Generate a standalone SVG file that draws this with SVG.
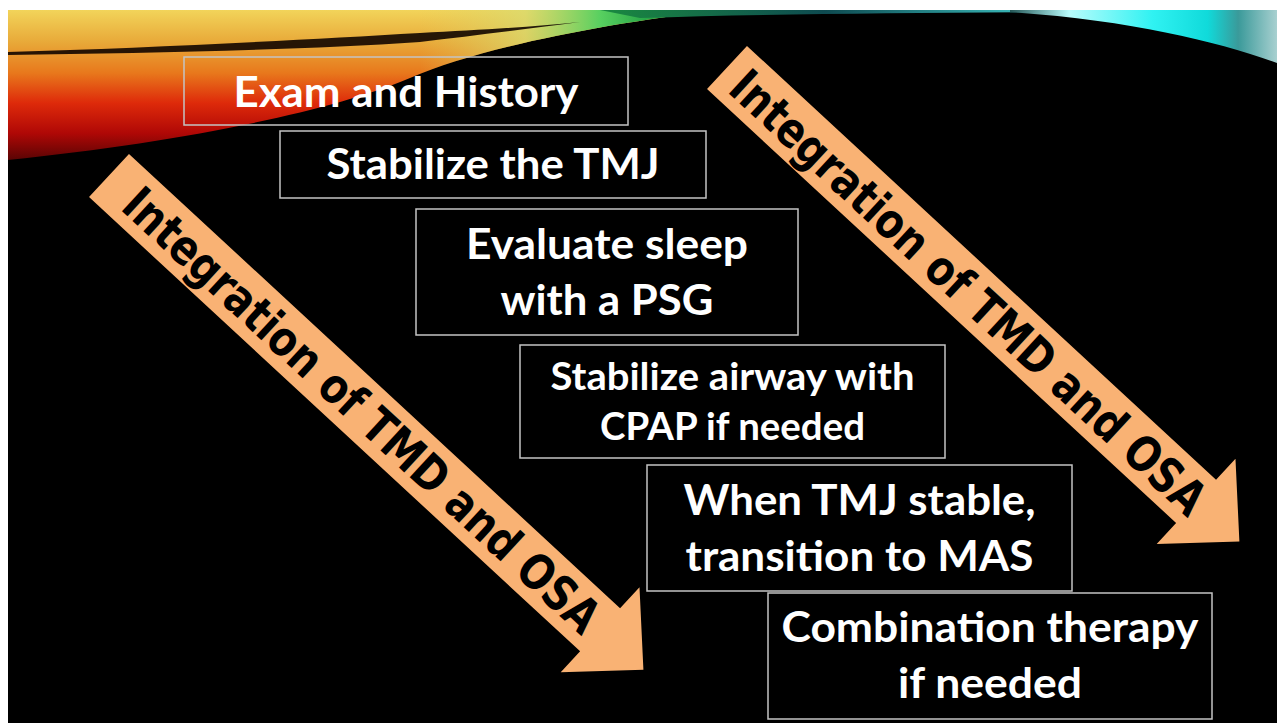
<svg xmlns="http://www.w3.org/2000/svg" width="1277" height="723" viewBox="0 0 1277 723">
<style>
.box{fill:none;stroke:#c4c4c4;stroke-width:1.5}
.lbl{font-family:Lato,"Open Sans","Liberation Sans",sans-serif;font-weight:700;fill:#ffffff;text-anchor:middle}
.arr{fill:#F9B274}
.arrtxt{font-family:"DejaVu Sans","Liberation Sans",sans-serif;font-weight:700;fill:#000000;text-anchor:middle;font-size:48px}
</style>
<defs>
<linearGradient id="warm" x1="0" y1="10" x2="0" y2="160" gradientUnits="userSpaceOnUse">
<stop offset="0" stop-color="#f2d45a"/>
<stop offset="0.22" stop-color="#e8a838"/>
<stop offset="0.42" stop-color="#e8781c"/>
<stop offset="0.62" stop-color="#de2a0a"/>
<stop offset="0.82" stop-color="#b00806"/>
<stop offset="1" stop-color="#5a0404"/>
</linearGradient>
<linearGradient id="green" x1="420" y1="0" x2="720" y2="0" gradientUnits="userSpaceOnUse">
<stop offset="0" stop-color="#e0d060" stop-opacity="0"/>
<stop offset="0.35" stop-color="#d8dc70" stop-opacity="0.75"/>
<stop offset="0.6" stop-color="#58d060" stop-opacity="1"/>
<stop offset="0.8" stop-color="#1a9a40" stop-opacity="1"/>
<stop offset="1" stop-color="#064a20" stop-opacity="1"/>
</linearGradient>
<linearGradient id="cyan" x1="1000" y1="0" x2="1277" y2="0" gradientUnits="userSpaceOnUse">
<stop offset="0" stop-color="#0a3a3a"/>
<stop offset="0.25" stop-color="#b8fcfc"/>
<stop offset="0.55" stop-color="#30f2f2"/>
<stop offset="0.75" stop-color="#10dada"/>
<stop offset="0.86" stop-color="#3a9a9a"/>
<stop offset="1" stop-color="#a8d0d0"/>
</linearGradient>
<linearGradient id="topline" x1="600" y1="0" x2="1050" y2="0" gradientUnits="userSpaceOnUse">
<stop offset="0" stop-color="#1a8a40"/>
<stop offset="0.5" stop-color="#0e4a50"/>
<stop offset="1" stop-color="#40c8c8"/>
</linearGradient>
</defs>

<rect x="0" y="0" width="1277" height="723" fill="#ffffff"/>
<rect x="8" y="10" width="1269" height="713" fill="#000000"/>

<g id="banner">
<path d="M8,10 L720,10 C600,24 480,48 410,78 C330,112 180,142 8,160 Z" fill="url(#warm)"/>
<path d="M8,10 L720,10 C600,24 480,48 410,78 C330,112 180,142 8,160 Z" fill="url(#green)"/>
<path d="M8,52 C150,48 300,40 420,33 C480,30 530,27 580,22 C520,30 470,36 420,42 C300,50 150,53 8,55 Z" fill="#120500" opacity="0.9"/>
<path d="M600,10 L1050,10 L1050,12 C900,13 760,14 640,18 Z" fill="url(#topline)"/>
<path d="M1010,10 L1277,10 L1277,63 C1220,42 1130,20 1010,12 Z" fill="url(#cyan)"/>
</g>

<g id="connectors">
<g id="arrow-left" transform="translate(109,175.5) rotate(42.77)">
<path class="arr" d="M0,-29.4 L669,-29.4 L669,-58 L728,0 L669,58 L669,29.4 L0,29.4 Z"/>
<text class="arrtxt" x="345" y="17.4" textLength="630" lengthAdjust="spacingAndGlyphs">Integration of TMD and OSA</text>
</g>
<g id="arrow-right" transform="translate(727,67.5) rotate(42.77)">
<path class="arr" d="M0,-29.4 L639,-29.4 L639,-58 L698,0 L639,58 L639,29.4 L0,29.4 Z"/>
<text class="arrtxt" x="330" y="18" textLength="629" lengthAdjust="spacingAndGlyphs">Integration of TMD and OSA</text>
</g>
</g>

<g id="node-exam">
<rect class="box" x="184" y="57" width="444" height="68"/>
<text class="lbl" x="406" y="107" font-size="42" textLength="345" lengthAdjust="spacingAndGlyphs">Exam and History</text>
</g>
<g id="node-stabilize-tmj">
<rect class="box" x="280" y="131" width="426" height="67"/>
<text class="lbl" x="493" y="179" font-size="42" textLength="333" lengthAdjust="spacingAndGlyphs">Stabilize the TMJ</text>
</g>
<g id="node-evaluate-sleep">
<rect class="box" x="416" y="209" width="382" height="126"/>
<text class="lbl" x="607" y="259" font-size="42" textLength="282" lengthAdjust="spacingAndGlyphs">Evaluate sleep</text>
<text class="lbl" x="607" y="315" font-size="42" textLength="213" lengthAdjust="spacingAndGlyphs">with a PSG</text>
</g>
<g id="node-stabilize-airway">
<rect class="box" x="520" y="345" width="425" height="113"/>
<text class="lbl" x="732.5" y="390" font-size="38" textLength="364" lengthAdjust="spacingAndGlyphs">Stabilize airway with</text>
<text class="lbl" x="732.5" y="440" font-size="38" textLength="265" lengthAdjust="spacingAndGlyphs">CPAP if needed</text>
</g>
<g id="node-transition-mas">
<rect class="box" x="647" y="465" width="425" height="126"/>
<text class="lbl" x="859.5" y="515" font-size="42" textLength="352" lengthAdjust="spacingAndGlyphs">When TMJ stable,</text>
<text class="lbl" x="859.5" y="571" font-size="42" textLength="348" lengthAdjust="spacingAndGlyphs">transition to MAS</text>
</g>
<g id="node-combination">
<rect class="box" x="768" y="593" width="444" height="126"/>
<text class="lbl" x="990" y="642" font-size="42" textLength="417" lengthAdjust="spacingAndGlyphs">Combination therapy</text>
<text class="lbl" x="990" y="698" font-size="42" textLength="184" lengthAdjust="spacingAndGlyphs">if needed</text>
</g>
</svg>
